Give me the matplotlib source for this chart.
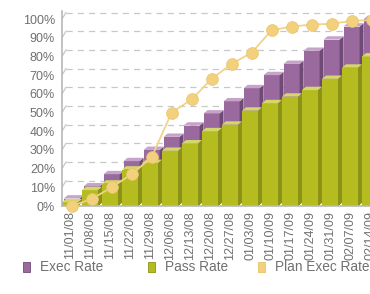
import numpy as np
import matplotlib.pyplot as plt
from matplotlib.patches import Polygon, Rectangle

plt.rcParams['font.family'] = ['Liberation Sans', 'DejaVu Sans']

weeks = ['11/01/08', '11/08/08', '11/15/08', '11/22/08', '11/29/08', '12/06/08',
         '12/13/08', '12/20/08', '12/27/08', '01/03/09', '01/10/09', '01/17/09',
         '01/24/09', '01/31/09', '02/07/09', '02/14/09']
exec_rate = [4, 10.5, 17, 24, 30, 37, 43, 49.5, 56, 63, 70, 76, 83, 89, 96, 100]
pass_rate = [2, 8.5, 12, 19.5, 23, 29.5, 33.5, 40, 43.5, 51, 55, 58.5, 62, 68, 74, 80]
plan_exec = [0, 3.7, 10, 17, 26, 50, 57, 68, 76, 82, 94, 96, 97, 97.5, 99, 99.5]
y_ticks = [0, 10, 20, 30, 40, 50, 60, 70, 80, 90, 100]
series_names = ['Exec Rate', 'Pass Rate', 'Plan Exec Rate']

COLOURS = {
    'exec':  {'front': '#9a6a9f', 'side': '#6f4a75', 'top': '#c6a4c9'},
    'pass':  {'front': '#b5bc1f', 'side': '#8c9218', 'top': '#d4d86a'},
    'plan':  {'line': '#f0d48a', 'marker': '#f2d07c', 'edge': '#e8c46a'},
    'text': '#707070',
    'grid': '#c8c8c8',
}

BAR_W = 0.8
DX, DY = 0.2, 1.8     # depth of the fake 3d extrusion
WALL = 3.5            # back wall offset of the gridlines


def draw_box(ax, x, bottom, top, c, zorder):
    left = x - BAR_W / 2
    right = x + BAR_W / 2
    ax.add_patch(Polygon([(left, bottom), (right, bottom), (right, top), (left, top)],
                         closed=True, facecolor=c['front'], edgecolor='none', zorder=zorder))
    ax.add_patch(Polygon([(right, bottom), (right + DX, bottom + DY), (right + DX, top + DY), (right, top)],
                         closed=True, facecolor=c['side'], edgecolor='none', zorder=zorder))
    ax.add_patch(Polygon([(left, top), (right, top), (right + DX, top + DY), (left + DX, top + DY)],
                         closed=True, facecolor=c['top'], edgecolor='none', zorder=zorder))


W, H = 370, 294
fig = plt.figure(figsize=(3.7, 2.94), dpi=100)
ax = fig.add_axes([0.1676, 0.2993, 0.8324, 0.6677])
x = np.arange(len(weeks))
x_left = -0.4

# back wall gridlines
for v in y_ticks[1:]:
    ax.plot([x_left, x_left + 0.2], [v, v + WALL], color=COLOURS['grid'], lw=0.9, zorder=1)
    ax.plot([x_left + 0.2, 16], [v + WALL, v + WALL], color=COLOURS['grid'], lw=0.9,
            dashes=(5, 4), zorder=1)

# bars: exec rate sits behind pass rate
for i in x:
    draw_box(ax, i + 0.08, 0.8, exec_rate[i], COLOURS['exec'], zorder=2 + i * 0.01)
for i in x:
    draw_box(ax, i, 0, pass_rate[i], COLOURS['pass'], zorder=3 + i * 0.01)

ax.plot(x + 0.08, plan_exec, color=COLOURS['plan']['line'], lw=1.3, marker='o',
        markersize=8.5, markerfacecolor=COLOURS['plan']['marker'],
        markeredgecolor=COLOURS['plan']['edge'], markeredgewidth=0.5, zorder=5,
        clip_on=False)

# axis lines
ax.plot([x_left, x_left], [0, 100 + WALL + 1], color='#b8b8b8', lw=1.2, zorder=4, clip_on=False)
ax.plot([x_left, 16], [0, 0], color='#b8b8b8', lw=1.2, zorder=4, clip_on=False)

ax.set_xlim(x_left, 15.0)
ax.set_ylim(0, 105)
for s in ax.spines.values():
    s.set_visible(False)

ax.set_yticks(y_ticks)
ax.set_yticklabels([f'{v}%' for v in y_ticks])
ax.set_xticks(x)
ax.set_xticklabels(weeks, rotation=90)
ax.tick_params(axis='both', length=0, colors=COLOURS['text'], labelsize=9)
ax.tick_params(axis='x', pad=3.5)
ax.tick_params(axis='y', pad=5)

# legend, laid out like the flash original (fixed slots)
legend_slots = [23, 148, 258]
legend_keys = ['exec', 'pass', 'plan']
for px, key, name in zip(legend_slots, legend_keys, series_names):
    c = COLOURS[key]
    face = c['front'] if 'front' in c else c['marker']
    edge = c['side'] if 'side' in c else c['edge']
    fig.patches.append(Rectangle((px / W, 1 - 272 / H), 7 / W, 10 / H,
                                 transform=fig.transFigure, facecolor=face,
                                 edgecolor=edge, lw=0.6))
    fig.text((px + 17) / W, 1 - 267 / H, name, color=COLOURS['text'], fontsize=9.8,
             va='center', ha='left')

fig.savefig('out.png', dpi=100)
